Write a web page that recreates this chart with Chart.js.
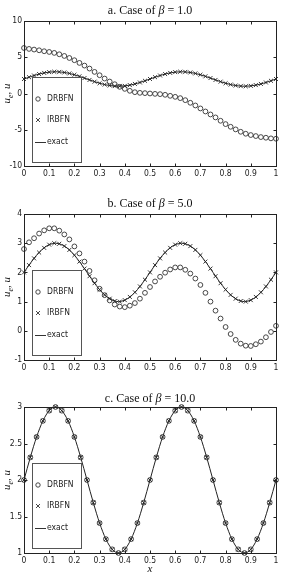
<!DOCTYPE html>
<html>
<head>
<meta charset="utf-8">
<script src="https://cdn.jsdelivr.net/npm/chart.js@4.4.1/dist/chart.umd.min.js"></script>
<style>
  body { margin: 0; background: #fff; width: 283px; height: 581px; overflow: hidden; position: relative; }
  canvas { position: absolute; left: 0; }
</style>
</head>
<body>
<canvas id="chartA" width="283" height="193" style="top:0px"></canvas>
<canvas id="chartB" width="283" height="194" style="top:193px"></canvas>
<canvas id="chartC" width="283" height="194" style="top:387px"></canvas>
<script>
// x positions of the computed nodes (51) and of the exact-solution samples (41)
const xNodes = [0, 0.02, 0.04, 0.06, 0.08, 0.1, 0.12, 0.14, 0.16, 0.18, 0.2, 0.22, 0.24, 0.26, 0.28, 0.3,
  0.32, 0.34, 0.36, 0.38, 0.4, 0.42, 0.44, 0.46, 0.48, 0.5, 0.52, 0.54, 0.56, 0.58, 0.6, 0.62, 0.64, 0.66,
  0.68, 0.7, 0.72, 0.74, 0.76, 0.78, 0.8, 0.82, 0.84, 0.86, 0.88, 0.9, 0.92, 0.94, 0.96, 0.98, 1];
const xExact = [0, 0.025, 0.05, 0.075, 0.1, 0.125, 0.15, 0.175, 0.2, 0.225, 0.25, 0.275, 0.3, 0.325, 0.35,
  0.375, 0.4, 0.425, 0.45, 0.475, 0.5, 0.525, 0.55, 0.575, 0.6, 0.625, 0.65, 0.675, 0.7, 0.725, 0.75, 0.775,
  0.8, 0.825, 0.85, 0.875, 0.9, 0.925, 0.95, 0.975, 1];

// exact solution (same in all three panels)
const exactU = [2.00, 2.31, 2.59, 2.81, 2.95, 3.00, 2.95, 2.81, 2.59, 2.31, 2.00, 1.69, 1.41, 1.19, 1.05,
  1.00, 1.05, 1.19, 1.41, 1.69, 2.00, 2.31, 2.59, 2.81, 2.95, 3.00, 2.95, 2.81, 2.59, 2.31, 2.00, 1.69,
  1.41, 1.19, 1.05, 1.00, 1.05, 1.19, 1.41, 1.69, 2.00];

// IRBFN results, beta = 1 and beta = 5 (they sit on the exact curve)
const irbfnA = [2.00, 2.25, 2.48, 2.68, 2.84, 2.95, 3.00, 2.98, 2.90, 2.77, 2.59, 2.37, 2.13, 1.87, 1.63,
  1.41, 1.23, 1.10, 1.02, 1.00, 1.05, 1.16, 1.32, 1.52, 1.75, 2.00, 2.25, 2.48, 2.68, 2.84, 2.95, 3.00,
  2.98, 2.90, 2.77, 2.59, 2.37, 2.13, 1.87, 1.63, 1.41, 1.23, 1.10, 1.02, 1.00, 1.05, 1.16, 1.32, 1.52,
  1.75, 2.00];
const irbfnB = irbfnA.slice();

// DRBFN results
const drbfnA = [6.28, 6.15, 6.06, 5.96, 5.83, 5.73, 5.60, 5.41, 5.18, 4.90, 4.59, 4.22, 3.85, 3.44, 2.98,
  2.52, 2.06, 1.65, 1.28, 0.92, 0.64, 0.37, 0.18, 0.09, 0.05, 0.00, -0.05, -0.09, -0.18, -0.32, -0.46,
  -0.64, -0.92, -1.28, -1.65, -2.06, -2.48, -2.89, -3.30, -3.76, -4.22, -4.59, -4.95, -5.28, -5.55, -5.73,
  -5.87, -6.01, -6.10, -6.19, -6.24];
const drbfnB = [2.80, 3.03, 3.17, 3.33, 3.44, 3.51, 3.51, 3.43, 3.30, 3.13, 2.89, 2.65, 2.37, 2.05, 1.73,
  1.44, 1.22, 1.04, 0.90, 0.83, 0.81, 0.86, 0.95, 1.10, 1.30, 1.50, 1.69, 1.85, 1.99, 2.10, 2.17, 2.17,
  2.09, 1.96, 1.79, 1.57, 1.30, 1.00, 0.69, 0.42, 0.13, -0.11, -0.31, -0.44, -0.51, -0.52, -0.46, -0.37,
  -0.22, -0.04, 0.17];
// beta = 10: both methods coincide with the exact values at the 41 samples
const drbfnC = exactU.slice();
const irbfnC = exactU.slice();

// tick values
const xTicks = [0, 0.1, 0.2, 0.3, 0.4, 0.5, 0.6, 0.7, 0.8, 0.9, 1];
const yTicksA = [-10, -5, 0, 5, 10];
const yTicksB = [-1, 0, 1, 2, 3, 4];
const yTicksC = [1, 1.5, 2, 2.5, 3];

const narrow = "'Liberation Sans Narrow', 'DejaVu Sans Condensed', sans-serif";
const serif = "'Liberation Serif', 'DejaVu Serif', serif";

function pts(xs, ys) {
  return ys.map((y, i) => ({ x: xs[i], y: y }));
}

// frame, inward ticks, title, axis labels and the boxed legend
const panelDecor = {
  id: "panelDecor",
  afterDatasetsDraw(chart, args, opts) {
    const ctx = chart.ctx, a = chart.chartArea;
    const bx = Math.round(a.left) + 8, by = Math.round(a.top) + 56, bw = 49, bh = 85;
    ctx.save();
    ctx.fillStyle = "#fff";
    ctx.fillRect(bx, by, bw, bh);
    ctx.strokeStyle = "#555";
    ctx.lineWidth = 1;
    ctx.strokeRect(bx + 0.5, by + 0.5, bw, bh);
    const rows = [22, 43, 65];
    ctx.strokeStyle = "#333";
    ctx.lineWidth = 0.9;
    ctx.beginPath();
    ctx.arc(bx + 6, by + rows[0], 2.2, 0, Math.PI * 2);
    ctx.stroke();
    ctx.beginPath();
    ctx.moveTo(bx + 4, by + rows[1] - 2); ctx.lineTo(bx + 8, by + rows[1] + 2);
    ctx.moveTo(bx + 8, by + rows[1] - 2); ctx.lineTo(bx + 4, by + rows[1] + 2);
    ctx.stroke();
    ctx.strokeStyle = "#333";
    ctx.lineWidth = 1;
    ctx.beginPath();
    ctx.moveTo(bx + 3, by + rows[2] + 0.5); ctx.lineTo(bx + 14, by + rows[2] + 0.5);
    ctx.stroke();
    ctx.fillStyle = "#222";
    ctx.font = "8.5px " + narrow;
    ctx.textBaseline = "middle";
    ctx.fillText("DRBFN", bx + 15, by + rows[0]);
    ctx.fillText("IRBFN", bx + 15, by + rows[1]);
    ctx.fillText("exact", bx + 15, by + rows[2]);
    ctx.restore();
  },
  afterDraw(chart, args, opts) {
    const ctx = chart.ctx, a = chart.chartArea;
    const xs = chart.scales.x, ys = chart.scales.y;
    const L = Math.round(a.left) + 0.5, R = Math.round(a.right) + 0.5;
    const T = Math.round(a.top) + 0.5, B = Math.round(a.bottom) + 0.5;
    ctx.save();
    ctx.strokeStyle = "#222";
    ctx.lineWidth = 1;
    ctx.strokeRect(L, T, R - L, B - T);
    ctx.beginPath();
    xs.ticks.forEach(t => {
      const px = Math.round(xs.getPixelForValue(t.value)) + 0.5;
      ctx.moveTo(px, B); ctx.lineTo(px, B - 3);
      ctx.moveTo(px, T); ctx.lineTo(px, T + 3);
    });
    ys.ticks.forEach(t => {
      const py = Math.round(ys.getPixelForValue(t.value)) + 0.5;
      ctx.moveTo(L, py); ctx.lineTo(L + 3, py);
      ctx.moveTo(R, py); ctx.lineTo(R - 3, py);
    });
    ctx.stroke();

    // title: "a. Case of β = 1.0"
    ctx.fillStyle = "#111";
    ctx.textBaseline = "alphabetic";
    const parts = [
      { s: opts.prefix + " Case of ", f: "12px " + serif },
      { s: "β", f: "italic 12px " + serif },
      { s: " = " + opts.beta, f: "12px " + serif }
    ];
    let w = 0;
    parts.forEach(p => { ctx.font = p.f; p.w = ctx.measureText(p.s).width; w += p.w; });
    let cx = (a.left + a.right) / 2 - w / 2;
    parts.forEach(p => { ctx.font = p.f; ctx.fillText(p.s, cx, opts.titleY); cx += p.w; });

    // y label: u_e, u
    ctx.save();
    ctx.translate(10, (a.top + a.bottom) / 2);
    ctx.rotate(-Math.PI / 2);
    const lab = [
      { s: "u", f: "italic 11px " + serif, dy: 0 },
      { s: "e", f: "italic 8px " + serif, dy: 2.5 },
      { s: ", ", f: "11px " + serif, dy: 0 },
      { s: "u", f: "italic 11px " + serif, dy: 0 }
    ];
    let lw = 0;
    lab.forEach(p => { ctx.font = p.f; p.w = ctx.measureText(p.s).width; lw += p.w; });
    let lx = -lw / 2;
    lab.forEach(p => { ctx.font = p.f; ctx.fillText(p.s, lx, p.dy); lx += p.w; });
    ctx.restore();

    if (opts.xLabel) {
      ctx.font = "italic 11px " + serif;
      ctx.textAlign = "center";
      ctx.fillText("x", (a.left + a.right) / 2, a.bottom + 19);
    }
    ctx.restore();
  }
};

function makePanel(id, drbfn, irbfn, yTicks, pad, xAxisH, decor) {
  const el = document.getElementById(id);
  const yMin = yTicks[0], yMax = yTicks[yTicks.length - 1];
  return new Chart(el, {
    type: "scatter",
    data: {
      datasets: [
        {
          label: "exact",
          data: pts(xExact, exactU),
          showLine: true,
          borderColor: "#222",
          borderWidth: 1,
          pointRadius: 0,
          cubicInterpolationMode: "monotone",
          order: 3
        },
        {
          label: "DRBFN",
          data: pts(drbfn.length === xNodes.length ? xNodes : xExact, drbfn),
          pointStyle: "circle",
          pointRadius: 2.4,
          pointBorderWidth: 0.9,
          pointBorderColor: "#333",
          pointBackgroundColor: "rgba(0,0,0,0)",
          showLine: false,
          order: 2
        },
        {
          label: "IRBFN",
          data: pts(irbfn.length === xNodes.length ? xNodes : xExact, irbfn),
          pointStyle: "crossRot",
          pointRadius: 2.8,
          pointBorderWidth: 0.9,
          pointBorderColor: "#222",
          showLine: false,
          order: 1
        }
      ]
    },
    options: {
      responsive: false,
      animation: false,
      devicePixelRatio: 1,
      clip: false,
      layout: { padding: pad },
      events: [],
      scales: {
        x: {
          type: "linear",
          min: 0,
          max: 1,
          afterBuildTicks: s => { s.ticks = xTicks.map(v => ({ value: v })); },
          afterFit: s => { s.height = xAxisH; },
          grid: { display: false, drawTicks: false },
          border: { display: false },
          ticks: { color: "#222", font: { family: narrow, size: 8.5 }, padding: 3, maxRotation: 0, autoSkip: false, callback: v => String(v) }
        },
        y: {
          type: "linear",
          min: yMin,
          max: yMax,
          afterBuildTicks: s => { s.ticks = yTicks.map(v => ({ value: v })); },
          afterFit: s => { s.width = 24; },
          grid: { display: false, drawTicks: false },
          border: { display: false },
          ticks: { color: "#222", font: { family: narrow, size: 8.5 }, padding: 2, autoSkip: false, callback: v => String(v) }
        }
      },
      plugins: {
        legend: { display: false },
        tooltip: { enabled: false },
        panelDecor: decor
      }
    },
    plugins: [panelDecor]
  });
}

makePanel("chartA", drbfnA, irbfnA, yTicksA, { top: 21, right: 7, left: 0, bottom: 0 }, 27,
  { prefix: "a.", beta: "1.0", titleY: 14, xLabel: false });
makePanel("chartB", drbfnB, irbfnB, yTicksB, { top: 21, right: 7, left: 0, bottom: 0 }, 27,
  { prefix: "b.", beta: "5.0", titleY: 14, xLabel: false });
makePanel("chartC", drbfnC, irbfnC, yTicksC, { top: 20, right: 7, left: 0, bottom: 0 }, 28,
  { prefix: "c.", beta: "10.0", titleY: 15, xLabel: true });
</script>
</body>
</html>
